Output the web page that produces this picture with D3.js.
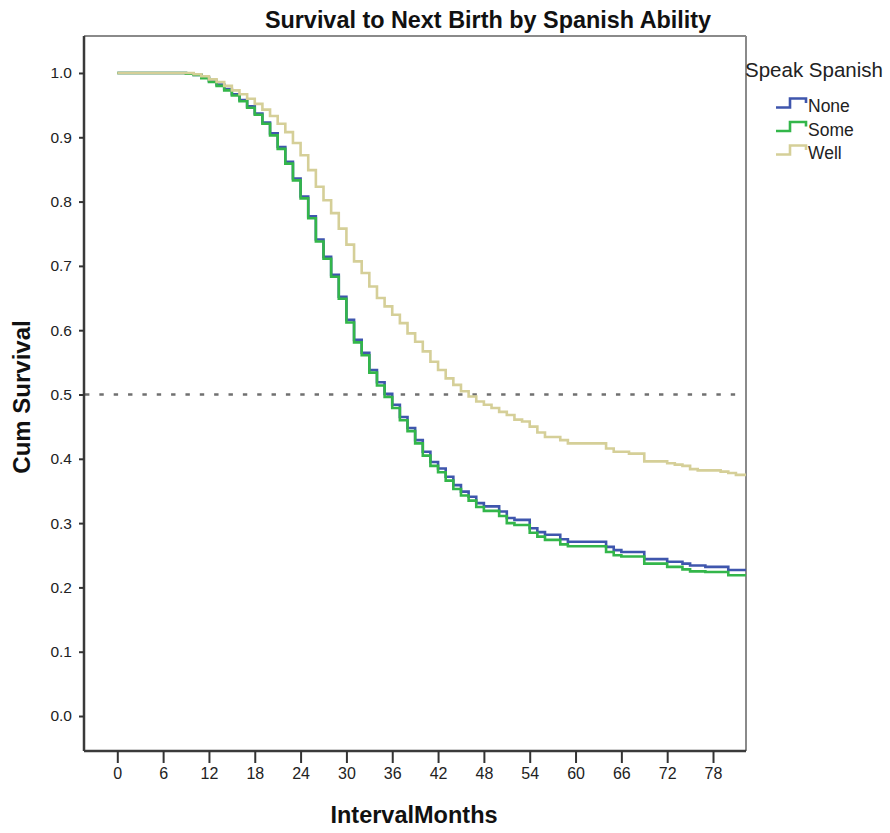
<!DOCTYPE html>
<html>
<head>
<meta charset="utf-8">
<script src="https://cdn.jsdelivr.net/npm/d3@7"></script>
<style>
  html, body { margin: 0; padding: 0; background: #fff; }
  svg { display: block; }
</style>
</head>
<body>
<svg id="chart" width="890" height="833"></svg>
<script>
// ---------------- data ----------------
const title = "Survival to Next Birth by Spanish Ability";
const xLabel = "IntervalMonths";
const yLabel = "Cum Survival";
const legendTitle = "Speak Spanish";
const seriesNames = ["None", "Some", "Well"];
const xTicks = [0, 6, 12, 18, 24, 30, 36, 42, 48, 54, 60, 66, 72, 78];
const yTicks = [0.0, 0.1, 0.2, 0.3, 0.4, 0.5, 0.6, 0.7, 0.8, 0.9, 1.0];
const refLine = 0.5;

const months = [0,1,2,3,4,5,6,7,8,9,10,11,12,13,14,15,16,17,18,19,20,
  21,22,23,24,25,26,27,28,29,30,31,32,33,34,35,36,37,38,39,40,
  41,42,43,44,45,46,47,48,49,50,51,52,53,54,55,56,57,58,59,60,
  61,62,63,64,65,66,67,68,69,70,71,72,73,74,75,76,77,78,79,80,81,82];

const noneVals = [1,1,1,1,1,1,1,1,1,0.999,0.997,0.993,0.988,0.982,0.975,0.967,0.958,0.948,0.937,0.923,0.906,
  0.885,0.862,0.836,0.808,0.777,0.741,0.714,0.686,0.652,0.616,0.585,0.565,0.538,0.519,0.501,0.484,0.465,0.448,0.429,0.411,
  0.395,0.385,0.372,0.359,0.349,0.341,0.331,0.326,0.326,0.318,0.308,0.305,0.305,0.292,0.286,0.282,0.282,0.275,0.271,0.271,
  0.271,0.271,0.271,0.263,0.258,0.255,0.255,0.255,0.244,0.244,0.244,0.240,0.240,0.237,0.234,0.234,0.232,0.232,0.232,0.227,0.227,0.227];

const someVals = [1,1,1,1,1,1,1,1,1,0.999,0.997,0.992,0.986,0.980,0.973,0.965,0.956,0.946,0.935,0.921,0.903,
  0.882,0.859,0.833,0.805,0.774,0.738,0.711,0.683,0.649,0.612,0.581,0.561,0.534,0.514,0.496,0.479,0.460,0.443,0.424,0.405,
  0.389,0.379,0.366,0.353,0.343,0.335,0.325,0.319,0.319,0.311,0.300,0.297,0.297,0.285,0.279,0.274,0.274,0.267,0.264,0.264,
  0.264,0.264,0.264,0.255,0.250,0.248,0.248,0.248,0.237,0.237,0.237,0.232,0.232,0.228,0.225,0.225,0.224,0.224,0.224,0.219,0.219,0.219];

const wellVals = [1,1,1,1,1,1,1,1,1,1,0.998,0.995,0.990,0.986,0.980,0.973,0.967,0.960,0.952,0.943,0.933,
  0.921,0.908,0.891,0.872,0.849,0.823,0.802,0.782,0.758,0.733,0.707,0.689,0.668,0.650,0.637,0.624,0.611,0.595,0.582,0.567,
  0.551,0.538,0.525,0.515,0.505,0.497,0.489,0.484,0.479,0.473,0.468,0.461,0.458,0.450,0.441,0.434,0.434,0.429,0.424,0.424,
  0.424,0.424,0.424,0.416,0.411,0.411,0.408,0.408,0.396,0.396,0.396,0.393,0.391,0.389,0.384,0.382,0.382,0.382,0.380,0.378,0.375,0.375];

const seriesColors = ["#3f56ad", "#33b64a", "#d5cf98"];

// ---------------- layout ----------------
const svg = d3.select("#chart");
const plot = { left: 84, right: 746, top: 36, bottom: 751 };
const font = "'Liberation Sans', Arial, sans-serif";

const x = d3.scaleLinear().domain([-4.36, 82.32]).range([plot.left, plot.right]);
const y = d3.scaleLinear().domain([-0.0544, 1.0575]).range([plot.bottom, plot.top]);

// frame: top & right (lighter)
svg.append("line").attr("x1", plot.left).attr("x2", plot.right).attr("y1", plot.top).attr("y2", plot.top)
  .attr("stroke", "#8a8a8a").attr("stroke-width", 2);
svg.append("line").attr("x1", plot.right).attr("x2", plot.right).attr("y1", plot.top).attr("y2", plot.bottom)
  .attr("stroke", "#8a8a8a").attr("stroke-width", 2);

// reference line
svg.append("line")
  .attr("x1", plot.left + 1).attr("x2", plot.right - 1)
  .attr("y1", y(refLine)).attr("y2", y(refLine))
  .attr("stroke", "#707070").attr("stroke-width", 2.5)
  .attr("stroke-dasharray", "4.4 9.95");

// curves
const line = d3.line().x(d => x(d[0])).y(d => y(d[1])).curve(d3.curveStepAfter);
const allVals = [noneVals, someVals, wellVals];
const xEnd = x.domain()[1];
allVals.forEach((vals, i) => {
  const pts = months.map((m, j) => [m, vals[j]]);
  pts.push([xEnd, vals[vals.length - 1]]);
  svg.append("path").datum(pts)
    .attr("d", line)
    .attr("fill", "none")
    .attr("stroke", seriesColors[i])
    .attr("stroke-width", 2.6)
    .attr("stroke-linejoin", "miter");
});

// axes
const xAxis = d3.axisBottom(x).tickValues(xTicks).tickSize(12).tickPadding(5).tickFormat(d3.format("d"));
const gx = svg.append("g").attr("transform", `translate(0,${plot.bottom})`).call(xAxis);
gx.select(".domain").attr("stroke", "#3a3a3a").attr("stroke-width", 2.5)
  .attr("d", `M${plot.left},0H${plot.right}`);
gx.selectAll(".tick line").attr("stroke", "#333").attr("stroke-width", 2);
gx.selectAll(".tick text").attr("font-family", font)
  .attr("font-size", 16).attr("fill", "#222");

const yAxis = d3.axisLeft(y).tickValues(yTicks).tickSize(5).tickPadding(7).tickFormat(d3.format(".1f"));
const gy = svg.append("g").attr("transform", `translate(${plot.left},0)`).call(yAxis);
gy.select(".domain").attr("stroke", "#3a3a3a").attr("stroke-width", 2.5)
  .attr("d", `M0,${plot.top}V${plot.bottom}`);
gy.selectAll(".tick line").attr("stroke", "#333").attr("stroke-width", 2);
gy.selectAll(".tick text").attr("font-family", font)
  .attr("font-size", 15.5).attr("fill", "#222");

// titles
svg.append("text").text(title)
  .attr("x", 488).attr("y", 28).attr("text-anchor", "middle")
  .attr("font-family", font).attr("font-weight", "bold")
  .attr("font-size", 23.4).attr("fill", "#111");

svg.append("text").text(xLabel)
  .attr("x", 414).attr("y", 823).attr("text-anchor", "middle")
  .attr("font-family", font).attr("font-weight", "bold")
  .attr("font-size", 23.5).attr("fill", "#111");

svg.append("text").text(yLabel)
  .attr("transform", "translate(30,397) rotate(-90)").attr("text-anchor", "middle")
  .attr("font-family", font).attr("font-weight", "bold")
  .attr("font-size", 24).attr("fill", "#111");

// legend
const lg = svg.append("g");
lg.append("text").text(legendTitle)
  .attr("x", 745).attr("y", 77)
  .attr("font-family", font)
  .attr("font-size", 20.5).attr("fill", "#222");

const legendRowY = d3.scalePoint().domain(seriesNames).range([106, 153]);
seriesNames.forEach((name, i) => {
  const cy = legendRowY(name);
  lg.append("path")
    .attr("d", `M776,${cy + 1.5}H790V${cy - 7.5}H806V${cy - 3}`)
    .attr("fill", "none").attr("stroke", seriesColors[i]).attr("stroke-width", 2.6);
  lg.append("text").text(name)
    .attr("x", 808).attr("y", cy + 6)
    .attr("font-family", font)
    .attr("font-size", 17.5).attr("fill", "#222");
});
</script>
</body>
</html>
